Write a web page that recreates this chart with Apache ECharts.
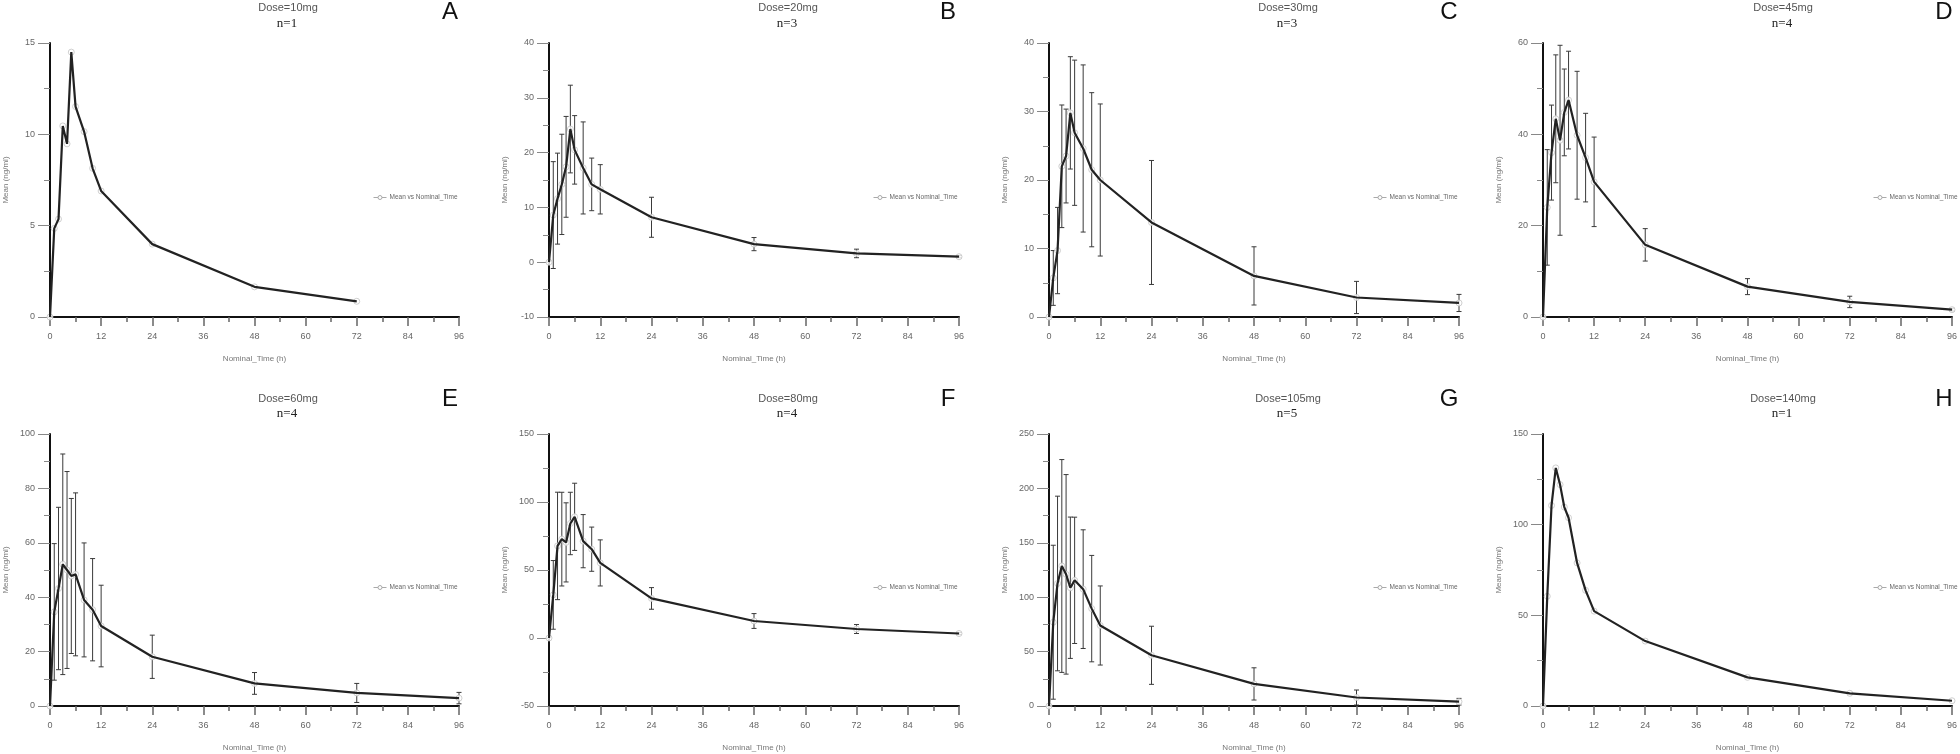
<!DOCTYPE html>
<html><head><meta charset="utf-8">
<script src="https://cdn.jsdelivr.net/npm/echarts@6/dist/echarts.min.js"></script>
<style>html,body{margin:0;padding:0;background:#fff}#c{width:1960px;height:754px}</style>
</head><body><div id="c"></div>
<script>
// ---- data ----
const times = [0, 1, 2, 3, 4, 5, 6, 8, 10, 12, 24, 48, 72, 96];
const xTicks = [0, 12, 24, 36, 48, 60, 72, 84, 96];

const meanA = [0, 4.85, 5.36, 10.46, 9.48, 14.5, 11.52, 10.15, 8.14, 6.9, 3.99, 1.65, 0.86];
const sdA = null;
const meanB = [0, 8.6, 11.6, 14.2, 17.4, 24.3, 20.5, 17.2, 14.2, 13.3, 8.2, 3.3, 1.6, 1.0];
const sdB = [0, 9.75, 8.3, 9.15, 9.2, 8.0, 6.25, 8.4, 4.8, 4.5, 3.65, 1.2, 0.78, 0.2];
const meanC = [0, 5.7, 9.7, 22.0, 23.5, 29.8, 26.9, 24.6, 21.5, 20.0, 13.8, 6.0, 2.85, 2.05];
const sdC = [0, 4.0, 6.3, 8.95, 6.85, 8.2, 10.6, 12.2, 11.25, 11.1, 9.05, 4.25, 2.35, 1.25];
const meanD = [0, 24.0, 36.0, 43.4, 38.7, 44.8, 47.5, 39.8, 34.9, 29.6, 15.8, 6.65, 3.3, 1.6];
const sdD = [0, 12.65, 10.4, 14.0, 20.8, 9.5, 10.7, 14.0, 9.7, 9.8, 3.55, 1.75, 1.25, 0.3];
const meanE = [0, 34.6, 43.2, 52.1, 50.0, 47.8, 48.4, 39.0, 35.4, 29.4, 18.1, 8.3, 4.8, 2.9];
const sdE = [0, 25.1, 29.85, 40.55, 36.2, 28.5, 29.95, 20.95, 18.8, 15.0, 7.95, 4.0, 3.5, 2.1];
const meanF = [0, 31.7, 67.7, 72.7, 70.3, 84.2, 89.1, 71.2, 65.3, 55.2, 29.1, 12.5, 6.6, 3.3];
const sdF = [0, 25.25, 39.5, 34.45, 29.1, 22.95, 24.7, 19.55, 16.25, 16.95, 7.95, 5.45, 3.3, 0.8];
const meanG = [0, 77.0, 112.6, 128.7, 121.0, 108.7, 115.5, 107.4, 89.5, 74.0, 46.6, 20.3, 7.8, 3.95];
const sdG = [0, 70.75, 80.25, 97.8, 91.7, 64.95, 58.05, 54.55, 48.9, 36.35, 26.7, 14.8, 6.9, 3.05];
const meanH = [0, 60.5, 110.6, 131.3, 122.1, 109.7, 103.8, 78.9, 63.8, 52.3, 35.8, 15.8, 7.0, 2.9];
const sdH = null;

const letters = ['A', 'B', 'C', 'D', 'E', 'F', 'G', 'H'];
const doseLabels = ['Dose=10mg', 'Dose=20mg', 'Dose=30mg', 'Dose=45mg', 'Dose=60mg', 'Dose=80mg', 'Dose=105mg', 'Dose=140mg'];
const nLabels = ['n=1', 'n=3', 'n=3', 'n=4', 'n=4', 'n=4', 'n=5', 'n=1'];
const yMins = [0, -10, 0, 0, 0, -50, 0, 0];
const yMaxs = [15, 40, 40, 60, 100, 150, 250, 150];
const yIntervals = [5, 10, 10, 20, 20, 50, 50, 50];
const means = [meanA, meanB, meanC, meanD, meanE, meanF, meanG, meanH];
const sds = [sdA, sdB, sdC, sdD, sdE, sdF, sdG, sdH];
const seriesName = 'Mean vs Nominal_Time';
const xName = 'Nominal_Time (h)';
const yName = 'Mean (ng/ml)';

// ---- layout ----
const colLeft = [50, 549, 1049, 1543];
const colWidth = [409, 410, 410, 410];
const colCenter = [288, 788, 1288, 1783];
const colLetter = [450, 948, 1449, 1944];
const colLegend = [368, 868, 1368, 1868];
const rowTop = [43, 434];
const rowHeight = [274, 272];
const rowDoseY = [8, 399];
const rowNY = [24, 414];
const rowLetterY = [12, 399];
const rowLegendY = [193, 583];

const grids = [], xAxes = [], yAxes = [], series = [], legends = [], graphics = [];
const sans = 'Liberation Sans, Arial, sans-serif';

function renderErr(params, api) {
  const x = api.value(0), lo = api.value(1), hi = api.value(2);
  const p1 = api.coord([x, hi]), p2 = api.coord([x, lo]);
  const w = 2.5;
  const st = { stroke: '#3a3a3a', lineWidth: 1 };
  return {
    type: 'group',
    children: [
      { type: 'line', shape: { x1: p1[0], y1: p1[1], x2: p2[0], y2: p2[1] }, style: st },
      { type: 'line', shape: { x1: p1[0] - w, y1: p1[1], x2: p1[0] + w, y2: p1[1] }, style: st },
      { type: 'line', shape: { x1: p2[0] - w, y1: p2[1], x2: p2[0] + w, y2: p2[1] }, style: st }
    ]
  };
}

for (let i = 0; i < 8; i++) {
  const c = i % 4, r = Math.floor(i / 4);
  grids.push({ left: colLeft[c], top: rowTop[r], width: colWidth[c], height: rowHeight[r], containLabel: false });
  xAxes.push({
    gridIndex: i, type: 'value', min: 0, max: 96, interval: 12,
    name: xName, nameLocation: 'middle', nameGap: 38,
    nameTextStyle: { fontSize: 8, color: '#777', fontFamily: sans },
    axisLine: { show: true, onZero: false, lineStyle: { color: '#111', width: 2 } },
    axisTick: { show: true, length: 9, lineStyle: { color: '#666', width: 1.5 } },
    minorTick: { show: true, splitNumber: 2, length: 5, lineStyle: { color: '#666', width: 1.5 } },
    axisLabel: { fontSize: 9, color: '#666', margin: 15, fontFamily: sans },
    splitLine: { show: false }
  });
  yAxes.push({
    gridIndex: i, type: 'value', min: yMins[i], max: yMaxs[i], interval: yIntervals[i],
    name: yName, nameLocation: 'middle', nameGap: 40,
    nameTextStyle: { fontSize: 8, color: '#777', fontFamily: sans },
    axisLine: { show: true, onZero: false, lineStyle: { color: '#111', width: 2 } },
    axisTick: { show: true, length: 12, lineStyle: { color: '#888', width: 1 } },
    minorTick: { show: true, splitNumber: 2, length: 6, lineStyle: { color: '#888', width: 1 } },
    axisLabel: { fontSize: 9, color: '#666', margin: 15, fontFamily: sans },
    splitLine: { show: false }
  });
  const m = means[i];
  const pts = m.map((v, k) => [times[k], v]);
  if (sds[i]) {
    const errData = [];
    sds[i].forEach((s, k) => { if (s > 0) errData.push([times[k], m[k] - s, m[k] + s]); });
    series.push({
      name: 'err' + letters[i], type: 'custom', xAxisIndex: i, yAxisIndex: i,
      renderItem: renderErr, data: errData, encode: { x: 0, y: [1, 2] }, z: 1, silent: true
    });
  }
  series.push({
    name: 'pts' + letters[i], type: 'scatter', xAxisIndex: i, yAxisIndex: i,
    data: pts, symbol: 'circle', symbolSize: 6, z: 2, silent: true,
    itemStyle: { color: '#fff', borderColor: '#c4c4c4', borderWidth: 1 }
  });
  series.push({
    name: seriesName, type: 'line', xAxisIndex: i, yAxisIndex: i,
    data: pts, showSymbol: false, symbol: 'circle', symbolSize: 5, z: 3,
    lineStyle: { color: '#222', width: 2.2 }, itemStyle: { color: '#222' }, silent: true
  });
  legends.push({
    data: [seriesName], left: colLegend[c], top: rowLegendY[r] - 4,
    itemWidth: 13, itemHeight: 5, itemGap: 2, selectedMode: false,
    textStyle: { fontSize: 6.5, color: '#666', fontFamily: sans, padding: [0, 0, 0, -2] },
    lineStyle: { color: '#aaa', width: 1 },
    itemStyle: { color: '#fff', borderColor: '#aaa', borderWidth: 1 }
  });
  graphics.push({
    type: 'text', x: colCenter[c], y: rowDoseY[r],
    style: { text: doseLabels[i], fill: '#555', font: '11px ' + sans, textAlign: 'center', textVerticalAlign: 'middle' }
  });
  graphics.push({
    type: 'text', x: colCenter[c] - 1, y: rowNY[r],
    style: { text: nLabels[i], fill: '#222', font: '13px "Liberation Serif", "DejaVu Serif", serif', textAlign: 'center', textVerticalAlign: 'middle' }
  });
  graphics.push({
    type: 'text', x: colLetter[c], y: rowLetterY[r],
    style: { text: letters[i], fill: '#111', font: '24px ' + sans, textAlign: 'center', textVerticalAlign: 'middle' }
  });
}

const chart = echarts.init(document.getElementById('c'), null, { renderer: 'canvas' });
chart.setOption({
  backgroundColor: '#fff',
  animation: false,
  grid: grids, xAxis: xAxes, yAxis: yAxes, series: series, legend: legends,
  graphic: graphics
});
</script>
</body></html>
